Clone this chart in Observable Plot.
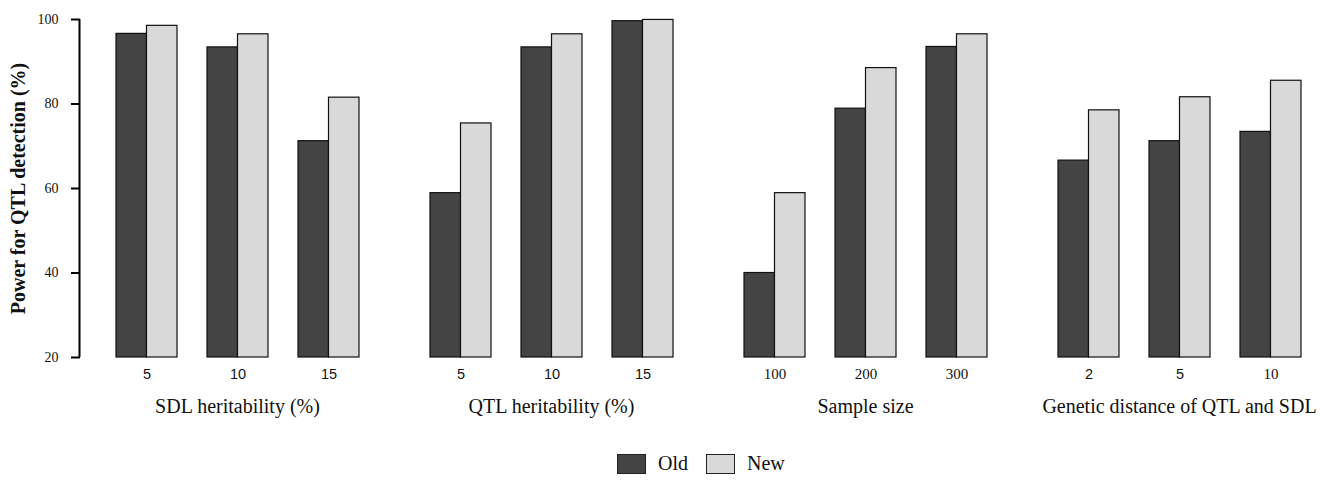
<!DOCTYPE html>
<html><head><meta charset="utf-8">
<script src="https://cdn.jsdelivr.net/npm/d3@7"></script>
<script src="https://cdn.jsdelivr.net/npm/@observablehq/plot@0.6"></script>
<style>
html,body{margin:0;padding:0;background:#fff;overflow:hidden;}
#chart svg{display:block;}
#chart g[aria-label="y-axis tick label"] text{font-size:14px;font-family:"Liberation Serif","Times New Roman",serif;}
#legend{position:absolute;left:617px;top:452px;display:flex;align-items:center;font-family:"Liberation Serif","Times New Roman",serif;font-size:20px;color:#111;}
#legend .sw{width:29px;height:20px;border:1px solid #222;box-sizing:border-box;}
#legend .lab{margin:0 18px 0 12px;}
</style></head><body>
<div id="chart"></div>
<div id="legend"></div>
<script>
const groups = ["SDL heritability (%)", "QTL heritability (%)", "Sample size", "Genetic distance of QTL and SDL"];
const levels = [["5","10","15"], ["5","10","15"], ["100","200","300"], ["2","5","10"]];
const oldValues = [[96.6, 93.4, 71.2], [58.9, 93.4, 99.6], [40.0, 78.9, 93.5], [66.6, 71.2, 73.4]];
const newValues = [[98.5, 96.5, 81.5], [75.4, 96.5, 99.9], [58.9, 88.5, 96.5], [78.5, 81.6, 85.5]];
const seriesNames = ["Old", "New"];
const seriesColors = ["#444444", "#d9d9d9"];
const yTicks = [20, 40, 60, 80, 100];
const yLabel = "Power for QTL detection (%)";

const slots = ["1", "2", "3"];
const rows = [];
const labels = [];
groups.forEach((g, gi) => {
  levels[gi].forEach((lv, li) => {
    labels.push({group: g, gi, li, slot: slots[li], level: lv});
    rows.push({group: g, slot: slots[li], series: "Old", value: oldValues[gi][li]});
    rows.push({group: g, slot: slots[li], series: "New", value: newValues[gi][li]});
  });
});
const serifFont = "'Liberation Serif','Times New Roman',serif";
const sansFont = "'Liberation Sans',Arial,sans-serif";
const isSerif = (d) => d.gi === 2 || (d.gi === 3 && d.li === 2);

function build(half, axisDx) {
  return Plot.plot({
    width: 1327,
    height: 440,
    marginLeft: 79,
    marginRight: -9,
    marginTop: 19,
    marginBottom: 83,
    facet: {marginRight: -9},
    style: {fontFamily: serifFont, color: "#111", background: "#fff"},
    fx: {domain: groups, paddingInner: 0, paddingOuter: 0, axis: null},
    x: {domain: slots, paddingInner: 0.33, paddingOuter: 0.39, axis: null},
    y: {domain: [20, 100], axis: null},
    marks: [
      Plot.barY(rows.filter(d => d.series === seriesNames[0]), {
        fx: "group", x: "slot", y1: 20, y2: "value",
        fill: seriesColors[0], stroke: "#111", strokeWidth: 1.2, insetRight: half
      }),
      Plot.barY(rows.filter(d => d.series === seriesNames[1]), {
        fx: "group", x: "slot", y1: 20, y2: "value",
        fill: seriesColors[1], stroke: "#111", strokeWidth: 1.2, insetLeft: half
      }),
      Plot.ruleX([groups[0]], {
        fx: d => d, x: () => slots[0], y1: yTicks[0], y2: yTicks[yTicks.length - 1],
        dx: axisDx, stroke: "#000", strokeWidth: 2
      }),
      Plot.axisY({ticks: yTicks, tickSize: 9, tickPadding: 13, label: null, fontSize: 14, stroke: "#000", strokeWidth: 2}),
      Plot.text(labels.filter(d => !isSerif(d)), {
        fx: "group", x: "slot", text: "level", frameAnchor: "bottom", dy: 21,
        fontSize: 14.5, fontFamily: sansFont, fill: "#111"
      }),
      Plot.text(labels.filter(isSerif), {
        fx: "group", x: "slot", text: "level", frameAnchor: "bottom", dy: 21,
        fontSize: 15, fontFamily: serifFont, fill: "#111"
      }),
      Plot.text(groups, {
        fx: d => d, text: d => d, frameAnchor: "bottom", dy: 55,
        fontSize: 20, fontFamily: serifFont, fill: "#111"
      }),
      Plot.text([groups[0]], {
        fx: d => d, text: () => yLabel, frameAnchor: "left", textAnchor: "middle",
        rotate: -90, dx: -62,
        fontSize: 20, fontWeight: "bold", fontFamily: serifFont, fill: "#111"
      })
    ]
  });
}

let chart = build(0, 0);
const xs = chart.scale("x");
const bw = xs.bandwidth;
const bandCenter = xs.apply(slots[0]) + bw / 2;
chart = build(bw / 2, -(bandCenter - xs.range[0]) - 1);
document.getElementById("chart").append(chart);

const legend = document.getElementById("legend");
seriesNames.forEach((name, i) => {
  const sw = document.createElement("div");
  sw.className = "sw";
  sw.style.background = seriesColors[i];
  const lab = document.createElement("span");
  lab.className = "lab";
  lab.textContent = name;
  legend.append(sw, lab);
});
</script>
</body></html>
